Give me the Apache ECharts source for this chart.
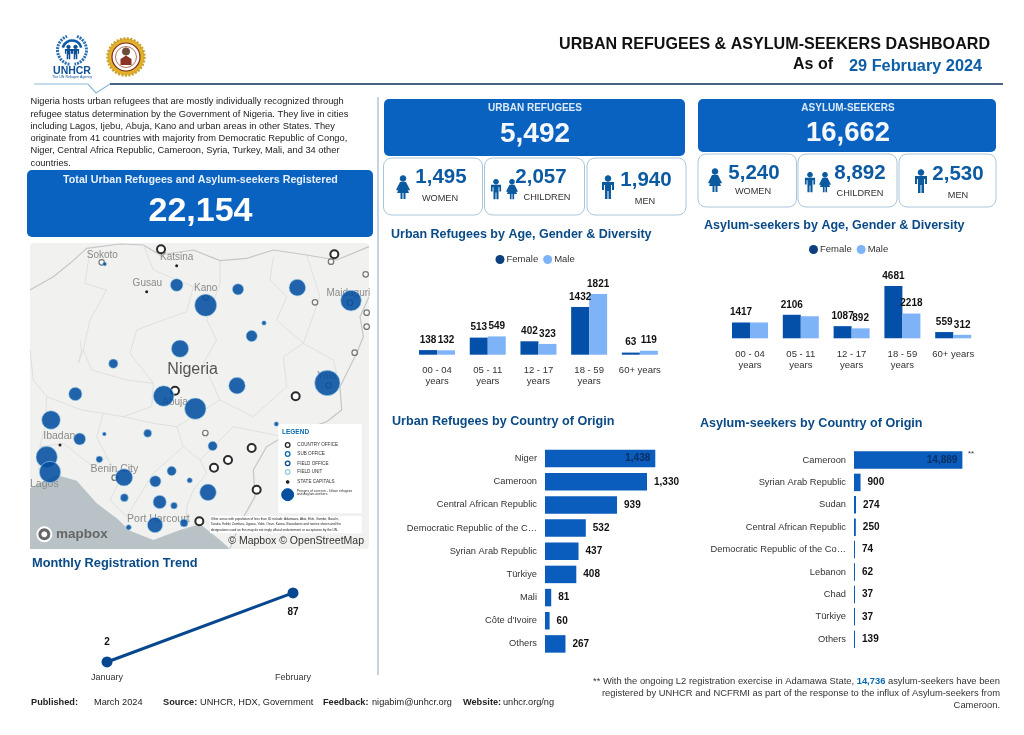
<!DOCTYPE html>
<html><head><meta charset="utf-8"><title>Urban Refugees & Asylum-seekers Dashboard</title>
<script src="https://cdn.jsdelivr.net/npm/echarts@6/dist/echarts.min.js"></script>
<style>html,body{margin:0;padding:0;background:#fff}#c{width:1024px;height:735px}</style></head>
<body><div id="c"></div>
<script>
const ageCategories = ['00 - 04\nyears','05 - 11\nyears','12 - 17\nyears','18 - 59\nyears','60+ years'];
const urbanFemale = [138,513,402,1432,63];
const urbanMale = [132,549,323,1821,119];
const asylumFemale = [1417,2106,1087,4681,559];
const asylumMale = [1417,1973,892,2218,312];
const asylumMaleLabelled = [false,false,true,true,true];
const urbanCountries = ['Niger','Cameroon','Central African Republic','Democratic Republic of the C…','Syrian Arab Republic','Türkiye','Mali',"Côte d'Ivoire",'Others'];
const urbanCountryValues = [1438,1330,939,532,437,408,81,60,267];
const asylumCountries = ['Cameroon','Syrian Arab Republic','Sudan','Central African Republic','Democratic Republic of the Co…','Lebanon','Chad','Türkiye','Others'];
const asylumCountryValues = [14889,900,274,250,74,62,37,37,139];
const months = ['January','February'];
const monthlyValues = [2,87];
const mapBubbles = [[254,72,36],[470,135,361],[654,148,289],[832,143,625],[557,196,1089],[993,182,961],[732,249,49],[695,288,289],[480,326,676],[280,371,196],[651,437,625],[922,429,1444],[431,468,961],[166,462,400],[526,506,1024],[93,540,784],[769,552,49],[383,580,144],[253,582,36],[179,597,324],[578,618,196],[80,651,1024],[90,696,1024],[238,658,100],[312,712,676],[455,693,196],[406,724,289],[509,721,64],[564,757,625],[313,773,144],[419,786,400],[462,797,100],[326,862,64],[405,855,529],[492,849,144]];
const officeRings = [[423,28],[943,43],[465,452],[827,469],[695,624],[624,660],[582,683],[710,749],[538,844]];
const unitRings = [[245,67],[933,65],[1037,103],[885,187],[1040,218],[1040,260],[1004,338],[556,579],[284,713],[990,188],[926,436],[557,172]];
const stateDots = [[470,77],[380,155],[120,615]];
const mapBorders = [
 [[30,150],[100,110],[150,70],[200,25],[300,12],[370,15],[420,45],[520,30],[600,62],[680,55],[760,30],[860,45],[950,60],[1047,20]],
 [[1047,170],[1020,230],[1030,290],[1010,340],[985,390],[960,440],[965,510],[920,545],[880,560],[790,590],[740,620],[700,690],[705,770],[660,850],[630,925]],
 [[30,330],[40,420],[80,470],[75,560],[60,620],[55,690]],
 [[210,30],[195,130],[260,150],[210,240],[190,330],[215,390],[320,420],[400,430],[395,500],[310,530],[250,520],[185,510],[80,470]],
 [[370,15],[400,90],[520,140],[500,215],[430,240],[350,270],[330,340],[400,430]],
 [[600,62],[600,130],[560,240],[590,300],[550,370],[600,480],[470,560],[400,550],[310,530]],
 [[760,50],[750,120],[800,170],[770,240],[850,310],[790,350],[800,440],[700,530],[600,480]],
 [[860,45],[900,170],[850,310],[940,360],[960,440]],
 [[470,560],[490,620],[540,660],[560,700],[520,750],[500,800],[500,870]],
 [[790,590],[640,560],[540,660]],
 [[250,520],[230,590],[260,650],[300,720],[270,780],[320,830]],
 [[60,620],[130,610],[180,650],[220,680],[260,650]],
 [[320,830],[400,700],[490,620]],
 [[180,300],[185,330],[175,370],[190,330]]
];
const mapWater = [[30,745],[110,705],[170,722],[230,790],[290,835],[330,872],[400,900],[480,870],[540,852],[600,900],[630,927],[30,927]];
const mapPlaces = [['Sokoto',247,45,10],['Katsina',470,53,10],['Gusau',382,130,10],['Kano',557,146,10],['Maiduguri',985,160,10],['Yola',920,410,10],['Abuja',465,487,10],['Ibadan',118,588,10.5],['Benin City',283,687,10.5],['Lagos',73,732,10.5],['Port Harcourt',415,836,10.5]];

const NAVY='#0a4a86', BLUE='#0a62c0', TXT='#333';
const F='"Liberation Sans",Arial,sans-serif';
const g=[];
const txt=(text,x,y,size,fill,opt={})=>g.push({type:'text',x,y,z:opt.z||5,silent:true,style:{text,font:(opt.bold?'bold ':'')+size+'px '+F,fill,align:opt.align||'left',verticalAlign:'middle'}});
const rect=(x,y,w,h,r,fill,stroke,z)=>g.push({type:'rect',z:z||1,silent:true,shape:{x,y,width:w,height:h,r},style:{fill,stroke,lineWidth:stroke?1:0}});
const line=(pts,stroke,w)=>g.push({type:'polyline',z:2,silent:true,shape:{points:pts},style:{stroke,lineWidth:w,fill:null}});
const toX=v=>v/3+20, toY=v=>v/3+240;
const deg=d=>d*Math.PI/180;
const arc=(cx,cy,r,a,b,stroke,w,dash)=>g.push({type:'arc',z:3,silent:true,shape:{cx,cy,r,startAngle:deg(a),endAngle:deg(b),clockwise:true},style:{stroke,lineWidth:w,lineDash:dash||null,fill:null}});
const circ=(cx,cy,r,fill,stroke,w,dash)=>g.push({type:'circle',z:3,silent:true,shape:{cx,cy,r},style:{fill,stroke,lineWidth:w||1,lineDash:dash||null}});
const MAN=[[-6,-5],[6,-5],[6,3],[4,3],[4,-2],[3,-2],[3,12],[.5,12],[.5,4],[-.5,4],[-.5,12],[-3,12],[-3,-2],[-4,-2],[-4,3],[-6,3]];
const WOMAN=[[-3,-5],[3,-5],[7,3],[5,3.5],[3,-1],[6,6],[2.5,6],[2.5,12],[.5,12],[.5,6],[-.5,6],[-.5,12],[-2.5,12],[-2.5,6],[-6,6],[-3,-1],[-5,3.5],[-7,3]];
const person=(cx,cy,kind,s,col)=>{const c=col||'#0b5aa0';
 g.push({type:'polygon',z:4,silent:true,shape:{points:(kind==='w'?WOMAN:MAN).map(p=>[cx+p[0]*s,cy+p[1]*s])},style:{fill:c}});
 circ(cx,cy-8.5*s,2.8*s,c,c,0);};

// header
txt('URBAN REFUGEES & ASYLUM-SEEKERS DASHBOARD',990,45,16.1,'#111',{bold:true,align:'right'});
txt('As of',793,65,16,'#111',{bold:true});
txt('29 February 2024',849,67,16.3,'#0d5ea6',{bold:true});
line([[34,84],[88,84],[96,93],[110,84]],'#8db8d8',1.2);
line([[110,84],[1003,84]],'#0b2f5c',1.6);
// logos
arc(72,50,14.5,100,250,'#2a6fb0',3,[2,1]);
arc(72,50,14.5,-70,80,'#2a6fb0',3,[2,1]);
arc(72,50,9.5,195,345,'#0b5aa8',2.6);
person(68.5,52,'m',.6,'#0b4e96'); person(75.5,52,'m',.6,'#0b4e96');
txt('UNHCR',72,71,10.5,'#0b4e96',{bold:true,align:'center'});
txt('The UN Refugee Agency',72,77,3.6,'#0b4e96',{align:'center'});
circ(126,57,18.5,'#e2b02a','#caa030',2.5,[2,1.5]);
circ(126,57,14,'#fff','#7a2c1e',1.2);
circ(126,57,10.5,'#fff','#a5512f',.8);
circ(126,51.5,3.6,'#6b4a38','#6b4a38',0);
g.push({type:'polygon',z:4,silent:true,shape:{points:[[120.5,65],[120.5,59],[126,55.5],[131.5,59],[131.5,65]]},style:{fill:'#8a3326'}});
// intro paragraph
['Nigeria hosts urban refugees that are mostly individually recognized through',
 'refugee status determination by the Government of Nigeria. They live in cities',
 'including Lagos, Ijebu, Abuja, Kano and urban areas in other States. They',
 'originate from 41 countries with majority from Democratic Republic of Congo,',
 'Niger, Central Africa Republic, Cameroon, Syria, Turkey, Mali, and 34 other',
 'countries.'].forEach((t,i)=>txt(t,30.5,[101,114,126,138,150,163][i],9.3,'#222'));
// total box
rect(27,170,346,67,5,BLUE);
txt('Total Urban Refugees and Asylum-seekers Registered',200.5,180,10.7,'#e8f0fa',{bold:true,align:'center'});
txt('22,154',200.5,212,34,'#fff',{bold:true,align:'center'});
// separator
line([[378,97],[378,675]],'#b4c4d6',1.5);
// urban panel
rect(384,99,301,57,5,BLUE);
txt('URBAN REFUGEES',535,108,10,'#dce9f7',{bold:true,align:'center'});
txt('5,492',535,134,28,'#f4f8fd',{bold:true,align:'center'});
[[383.5,99],[484.5,100],[587,99]].forEach(b=>rect(b[0],158,b[1],57,8,'#fff','#a9c6dc'));
const NUM=20.5, LAB=9.2;
person(403,187,'w',1); txt('1,495',441,177,NUM,'#0c5aa2',{bold:true,align:'center'}); txt('WOMEN',440,198,LAB,TXT,{align:'center'});
person(496,189,'m',.85); person(512,189,'w',.85); txt('2,057',541,177,NUM,'#0c5aa2',{bold:true,align:'center'}); txt('CHILDREN',547,197,LAB,TXT,{align:'center'});
person(608,187,'m',1); txt('1,940',646,180,NUM,'#0c5aa2',{bold:true,align:'center'}); txt('MEN',645,201,LAB,TXT,{align:'center'});
// asylum panel
rect(698,99,298,53,5,BLUE);
txt('ASYLUM-SEEKERS',848,108,10,'#dce9f7',{bold:true,align:'center'});
txt('16,662',848,133,27.5,'#f4f8fd',{bold:true,align:'center'});
[[698,98.5],[798,99],[899,97]].forEach(b=>rect(b[0],154,b[1],53,8,'#fff','#a9c6dc'));
person(715,180,'w',1); txt('5,240',754,173,NUM,'#0c5aa2',{bold:true,align:'center'}); txt('WOMEN',753,191,LAB,TXT,{align:'center'});
person(810,182,'m',.85); person(825,182,'w',.85); txt('8,892',860,173,NUM,'#0c5aa2',{bold:true,align:'center'}); txt('CHILDREN',860,193,LAB,TXT,{align:'center'});
person(921,181,'m',1); txt('2,530',958,174,NUM,'#0c5aa2',{bold:true,align:'center'}); txt('MEN',958,195,LAB,TXT,{align:'center'});
// section titles
txt('Urban Refugees by Age, Gender & Diversity',391,235,12.5,NAVY,{bold:true});
txt('Asylum-seekers by Age, Gender & Diversity',704,226,12.5,NAVY,{bold:true});
txt('Urban Refugees by Country of Origin',392,422,12.6,NAVY,{bold:true});
txt('Asylum-seekers by Country of Origin',700,424,12.6,NAVY,{bold:true});
txt('Monthly Registration Trend',32,563,12.8,NAVY,{bold:true});
txt('**',971,454,8,'#333',{align:'center'});
// map
rect(30,243,339,306,4,'#f1f1ef',null,0);
g.push({type:'polygon',z:1,silent:true,shape:{points:mapWater.map(p=>[toX(p[0]),toY(p[1])])},style:{fill:'#b9c3c7'}});
mapPlaces.forEach(p=>txt(p[0],toX(p[1]),toY(p[2]),p[3],'#8b8b8b',{align:'center',z:2}));
txt('Nigeria',toX(518),toY(390),16,'#555',{align:'center',z:2});
rect(toX(775),toY(552),250/3,268/3,0,'#fff',null,3);
rect(toX(570),toY(828),455/3,52/3,0,'#fff',null,3);
txt('LEGEND',toX(786),toY(577),6.5,'#0a6aae',{bold:true});
[['COUNTRY OFFICE',615,'#222'],['SUB OFFICE',642,'#0a6aae'],['FIELD OFFICE',670,'#0b4a86'],['FIELD UNIT',696,'#9cc8e0']].forEach(r=>{
  circ(toX(803),toY(r[1]),2.3,'#fff',r[2],1.3); txt(r[0],toX(832),toY(r[1]),4.6,'#333');});
circ(toX(803),toY(726),1.4,'#222','#222',0); txt('STATE CAPITALS',toX(832),toY(726),4.6,'#333');
circ(toX(803),toY(764),6,'#07509f','#07509f',0);
txt('Persons of concern - Urban refugees',toX(830),toY(752),3.4,'#333');
txt('and Asylum-seekers',toX(830),toY(762),3.4,'#333');
['Other areas with population of less than 30 include: Adamawa, Abia, Ekiti, Gombe, Bauchi,',
 'Taraba, Kebbi, Zamfara, Jigawa, Yobe, Osun, Kwara. Boundaries and names shown and the',
 'designations used on this map do not imply official endorsement or acceptance by the UN.'
].forEach((t,i)=>txt(t,toX(572),toY(836+i*17),3.2,'#222',{z:4}));
txt('© Mapbox © OpenStreetMap',toX(1032),toY(903),10.5,'#333',{align:'right'});
circ(toX(73),toY(883),7,'#666','#fff',2);
circ(toX(73),toY(883),2.5,'#fff','#fff',0);
txt('mapbox',toX(108),toY(882),13.5,'#666',{bold:true});
// footer
[['Published:',31,1],['March 2024',94,0],['Source:',163,1],['UNHCR, HDX, Government',200,0],['Feedback:',323,1],['nigabim@unhcr.org',372,0],['Website:',463,1],['unhcr.org/ng',503,0]]
 .forEach(f=>txt(f[0],f[1],702,9.2,'#222',{bold:!!f[2]}));
g.push({type:'text',x:1000,y:681,z:5,silent:true,style:{text:'{a|** With the ongoing L2 registration exercise in Adamawa State, }{b|14,736}{a| asylum-seekers have been}',align:'right',verticalAlign:'middle',rich:{a:{font:'9.4px '+F,fill:'#333'},b:{font:'bold 9.4px '+F,fill:'#0a6aae'}}}});
txt('registered by UNHCR and NCFRMI as part of the response to the influx of Asylum-seekers from',1000,693,9.4,'#333',{align:'right'});
txt('Cameroon.',1000,705,9.4,'#333',{align:'right'});

const barLabel={show:true,position:'top',distance:5,color:'#111',fontWeight:'bold',fontSize:10,fontFamily:F};
const ageAxis=(i)=>({type:'category',gridIndex:i,data:ageCategories,axisLine:{show:false},axisTick:{show:false},axisLabel:{interval:0,margin:10.5,fontSize:9.5,lineHeight:11,color:TXT,fontFamily:F}});
const catAxis=(i,d)=>({type:'category',gridIndex:i,inverse:true,data:d,axisLine:{show:false},axisTick:{show:false},axisLabel:{interval:0,margin:8,fontSize:9.3,color:TXT,fontFamily:F}});
const hidden=(i,max)=>({type:'value',gridIndex:i,min:0,max,show:false});
const fmt=p=>p.value.toLocaleString('en-US');
const countryData=(vals,insideIdx)=>vals.map((v,i)=>i===insideIdx?{value:v,label:{position:'insideRight',distance:5,color:'#0a2f60'}}:v);
const series=[
 {type:'bar',name:'Female',xAxisIndex:0,yAxisIndex:0,data:urbanFemale,barWidth:18,barGap:0,itemStyle:{color:'#0450a8'},label:barLabel},
 {type:'bar',name:'Male',xAxisIndex:0,yAxisIndex:0,data:urbanMale,barWidth:18,barGap:0,itemStyle:{color:'#7fb3f7'},label:barLabel},
 {type:'bar',name:'Female',xAxisIndex:1,yAxisIndex:1,data:asylumFemale,barWidth:18,barGap:0,itemStyle:{color:'#0450a8'},label:barLabel},
 {type:'bar',name:'Male',xAxisIndex:1,yAxisIndex:1,data:asylumMale.map((v,i)=>({value:v,label:{show:asylumMaleLabelled[i]}})),barWidth:18,barGap:0,itemStyle:{color:'#7fb3f7'},label:barLabel},
 {type:'bar',name:'UrbanOrigin',xAxisIndex:2,yAxisIndex:2,data:countryData(urbanCountryValues,0),barWidth:17.5,barMinHeight:1,itemStyle:{color:'#0a5cbd'},label:{show:true,position:'right',distance:7,color:'#111',fontWeight:'bold',fontSize:10,fontFamily:F,formatter:fmt}},
 {type:'bar',name:'AsylumOrigin',xAxisIndex:3,yAxisIndex:3,data:countryData(asylumCountryValues,0),barWidth:17.5,barMinHeight:1,itemStyle:{color:'#0a5cbd'},label:{show:true,position:'right',distance:7,color:'#111',fontWeight:'bold',fontSize:10,fontFamily:F,formatter:fmt}},
 {type:'line',name:'Trend',xAxisIndex:4,yAxisIndex:4,data:monthlyValues.map((v,i)=>({value:v,label:{position:i===0?'top':'bottom',distance:9}})),symbol:'circle',symbolSize:11,lineStyle:{color:'#06478f',width:3},itemStyle:{color:'#06478f'},label:{show:true,color:'#111',fontWeight:'bold',fontSize:10,fontFamily:F}},
 ...mapBorders.map((b,i)=>({type:'line',name:'border'+i,xAxisIndex:5,yAxisIndex:5,data:b,symbol:'none',silent:true,z:1,clip:true,lineStyle:{color:i<2?'#c6c6c6':'#dadad8',width:i<2?1.2:.8}})),
 {type:'scatter',name:'Offices',xAxisIndex:5,yAxisIndex:5,data:officeRings,symbolSize:8,z:2,silent:true,itemStyle:{color:'#fff',borderColor:'#2b2b2b',borderWidth:2,opacity:1}},
 {type:'scatter',name:'Units',xAxisIndex:5,yAxisIndex:5,data:unitRings,symbolSize:5.5,z:2,silent:true,itemStyle:{color:'rgba(255,255,255,.4)',borderColor:'#777',borderWidth:1.2,opacity:1}},
 {type:'scatter',name:'Capitals',xAxisIndex:5,yAxisIndex:5,data:stateDots,symbolSize:3,z:2,silent:true,itemStyle:{color:'#222',opacity:1}},
 {type:'scatter',name:'Population',xAxisIndex:5,yAxisIndex:5,data:mapBubbles,z:3,silent:true,symbolSize:d=>Math.sqrt(d[2])*2/3,itemStyle:{color:'rgba(3,78,160,.88)',borderColor:'#a9d6ee',borderWidth:.6,opacity:1}}
];
const legendAt=(left,top)=>({left,top,orient:'horizontal',selectedMode:false,itemWidth:9,itemHeight:9,itemGap:5,icon:'circle',padding:0,textStyle:{fontSize:9.5,color:TXT,fontFamily:F,padding:[0,0,0,-3]},
  data:[{name:'Female',itemStyle:{color:'#0b3f80'}},{name:'Male',itemStyle:{color:'#7fb3f7'}}]});
const chart=echarts.init(document.getElementById('c'),null,{renderer:'canvas',width:1024,height:735});
chart.setOption({
 animation:false,backgroundColor:'#fff',
 legend:[legendAt(495.5,254.5),legendAt(809,244.5)],
 grid:[
  {left:411.7,top:274.7,width:253.5,height:80},
  {left:724.6,top:278,width:254,height:60.3},
  {left:545,top:447,width:153.4,height:208.5},
  {left:854,top:448.8,width:145.6,height:201.6},
  {left:14,top:582.4,width:372,height:81.2},
  {left:30,top:243,width:339,height:306}
 ],
 xAxis:[ageAxis(0),ageAxis(1),hidden(2,2000),hidden(3,20000),
  {type:'category',gridIndex:4,data:months,axisLine:{show:false},axisTick:{show:false},axisLabel:{margin:9,fontSize:9,color:TXT,fontFamily:F}},
  {type:'value',gridIndex:5,min:30,max:1047,show:false}],
 yAxis:[hidden(0,2400),hidden(1,5400),catAxis(2,urbanCountries),catAxis(3,asylumCountries),hidden(4,100),
  {type:'value',gridIndex:5,min:9,max:927,inverse:true,show:false}],
 series,
 graphic:{elements:g}
});
</script></body></html>
